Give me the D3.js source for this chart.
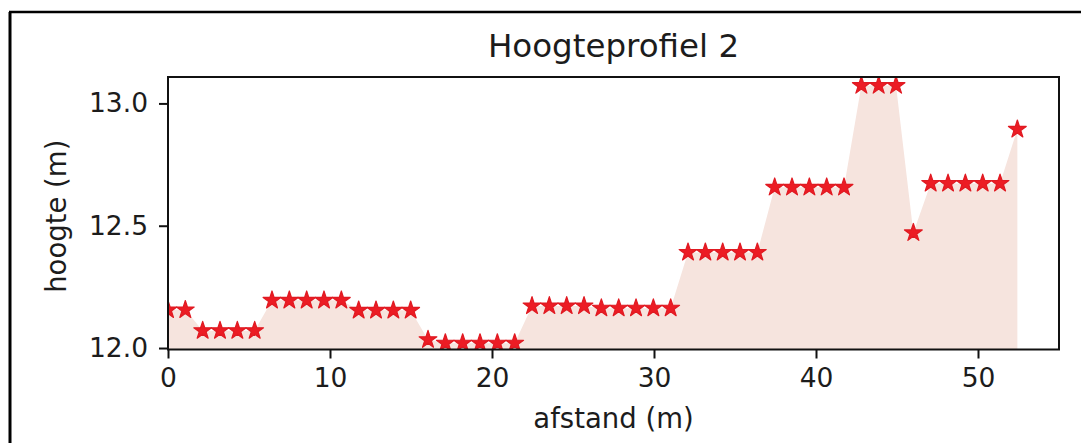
<!DOCTYPE html>
<html><head><meta charset="utf-8">
<script src="https://cdn.jsdelivr.net/npm/d3@7"></script>
<style>
body{margin:0;background:#fff}
svg{display:block}
text{font-family:"DejaVu Sans",sans-serif;fill:#1c1c1c}
</style>
</head><body>
<svg id="c" width="1081" height="443"></svg>
<script>
// ---- data ----
const distance = [0, 1.07, 2.14, 3.21, 4.28, 5.35, 6.42, 7.49, 8.56, 9.63,
  10.7, 11.77, 12.84, 13.91, 14.98, 16.05, 17.12, 18.19, 19.26, 20.33,
  21.4, 22.47, 23.54, 24.61, 25.68, 26.75, 27.82, 28.89, 29.96, 31.03,
  32.1, 33.17, 34.24, 35.31, 36.38, 37.45, 38.52, 39.59, 40.66, 41.73,
  42.8, 43.87, 44.94, 46.01, 47.08, 48.15, 49.22, 50.29, 51.36, 52.43];
const hoogte = [12.156, 12.156,
  12.071, 12.071, 12.071, 12.071,
  12.195, 12.195, 12.195, 12.195, 12.195,
  12.154, 12.154, 12.154, 12.154,
  12.034, 12.02, 12.02, 12.02, 12.02, 12.02,
  12.172, 12.172, 12.172, 12.172, 12.163, 12.163, 12.163, 12.163, 12.163,
  12.391, 12.391, 12.391, 12.391, 12.391,
  12.657, 12.657, 12.657, 12.657, 12.657,
  13.073, 13.073, 13.073,
  12.471,
  12.673, 12.673, 12.673, 12.673, 12.673,
  12.894];
const xTicks = [0, 10, 20, 30, 40, 50];
const yTicks = [12.0, 12.5, 13.0];
const xDomain = [0, 55];
const yDomain = [11.994, 13.108];
const titleText = "Hoogteprofiel 2";
const xLabelText = "afstand (m)";
const yLabelText = "hoogte (m)";

// ---- layout ----
const L = 168, R = 1059, T = 77, B = 349.5;
const svg = d3.select("#c");

// outer frame
svg.append("line").attr("x1", 10).attr("y1", 12).attr("x2", 10).attr("y2", 443)
  .attr("stroke", "#000").attr("stroke-width", 3);
svg.append("line").attr("x1", 9).attr("y1", 12).attr("x2", 1081).attr("y2", 12)
  .attr("stroke", "#000").attr("stroke-width", 2.6);

const x = d3.scaleLinear().domain(xDomain).range([L, R]);
const y = d3.scaleLinear().domain(yDomain).range([B, T]);

svg.append("defs").append("clipPath").attr("id", "clip")
  .append("rect").attr("x", L).attr("y", T - 1).attr("width", R - L).attr("height", B - T + 1);

const pts = distance.map((d, i) => ({x: d, y: hoogte[i]}));

const g = svg.append("g").attr("clip-path", "url(#clip)");
g.append("path").datum(pts)
  .attr("d", d3.area().x(d => x(d.x)).y0(y(yDomain[0])).y1(d => y(d.y)))
  .attr("fill", "#f6e4de");

const star = d3.symbol().type(d3.symbolStar).size(98);
g.selectAll("path.star").data(pts).join("path")
  .attr("class", "star")
  .attr("transform", d => `translate(${x(d.x)},${y(d.y)})`)
  .attr("d", star)
  .attr("fill", "#ec1c24").attr("stroke", "#e01a22").attr("stroke-width", 1.2)
  .attr("stroke-linejoin", "round");

// spines
svg.append("rect").attr("x", L).attr("y", T).attr("width", R - L).attr("height", B - T)
  .attr("fill", "none").attr("stroke", "#111").attr("stroke-width", 2);

// axes
const xAxis = svg.append("g").attr("transform", `translate(0,${B})`)
  .call(d3.axisBottom(x).tickValues(xTicks).tickFormat(d3.format("d")).tickSize(9).tickPadding(10));
const yAxis = svg.append("g").attr("transform", `translate(${L},0)`)
  .call(d3.axisLeft(y).tickValues(yTicks).tickFormat(d3.format(".1f")).tickSize(9).tickPadding(11));
[xAxis, yAxis].forEach(a => {
  a.select(".domain").remove();
  a.selectAll(".tick line").attr("stroke", "#111").attr("stroke-width", 2);
  a.selectAll(".tick text").attr("font-size", 26.5).attr("fill", "#1c1c1c")
    .style("font-family", '"DejaVu Sans",sans-serif');
});

// title & labels
svg.append("text").attr("x", (L + R) / 2).attr("y", 57).attr("text-anchor", "middle")
  .attr("font-size", 32.5).text(titleText);
svg.append("text").attr("x", (L + R) / 2).attr("y", 428).attr("text-anchor", "middle")
  .attr("font-size", 27.5).text(xLabelText);
svg.append("text").attr("transform", `translate(66,${(T + B) / 2 + 3}) rotate(-90)`)
  .attr("text-anchor", "middle").attr("font-size", 27.5).text(yLabelText);
</script>
</body></html>
